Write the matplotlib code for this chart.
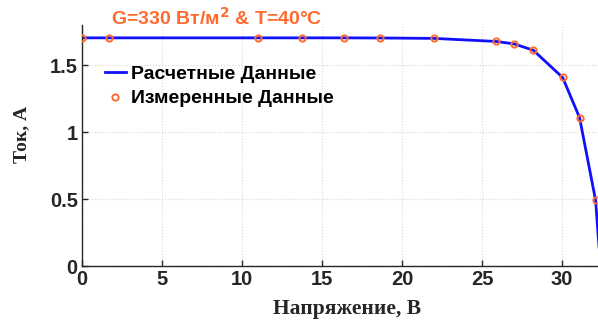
import matplotlib
matplotlib.use("Agg")
import matplotlib.pyplot as plt

# I-V characteristic of the PV module
voltage_calc = [0.0, 1.69, 11.0, 13.75, 16.35, 18.6, 22.0, 25.9, 27.0, 28.2, 30.04, 31.1, 32.1, 32.4]
current_calc = [1.704, 1.704, 1.704, 1.704, 1.704, 1.703, 1.700, 1.677, 1.659, 1.612, 1.408, 1.107, 0.49, 0.0]

voltage_meas = [0.0, 1.69, 11.0, 13.75, 16.35, 18.6, 22.0, 25.9, 27.0, 28.2, 30.04, 31.1, 32.1]
current_meas = [1.704, 1.704, 1.704, 1.704, 1.704, 1.703, 1.700, 1.677, 1.659, 1.612, 1.408, 1.107, 0.49]

x_ticks = [0, 5, 10, 15, 20, 25, 30]
y_ticks = [0, 0.5, 1, 1.5]
y_tick_labels = ["0", "0.5", "1", "1.5"]

orange = "#FF6A2E"
blue = "#1010FF"
dark = "#262626"

fig = plt.figure(figsize=(5.98, 3.2), dpi=100)
ax = fig.add_axes([82 / 598, 1 - 266 / 320, 1 - 82 / 598, (266 - 25) / 320])

ax.plot(voltage_meas, current_meas, linestyle="none", marker="o", markersize=4.5,
        markerfacecolor="none", markeredgecolor=orange, markeredgewidth=1.4,
        label="Измеренные Данные", zorder=3)
ax.plot(voltage_calc, current_calc, color=blue, linewidth=2.0,
        label="Расчетные Данные", zorder=2)

ax.set_xlim(0, (598 - 82) / 16)
ax.set_ylim(0, 1.8)
ax.set_xticks(x_ticks)
ax.set_yticks(y_ticks)
ax.set_yticklabels(y_tick_labels)

ax.grid(True, color="#d8d8d8", linestyle=":", linewidth=0.8)
ax.set_axisbelow(True)

for side in ("top", "right"):
    ax.spines[side].set_visible(False)
for side in ("left", "bottom"):
    ax.spines[side].set_color(dark)
    ax.spines[side].set_linewidth(1.0)

ax.tick_params(direction="in", length=4, width=1, colors=dark, labelsize=14.5, pad=3)
for lbl in ax.get_xticklabels() + ax.get_yticklabels():
    lbl.set_fontweight("bold")
    lbl.set_fontfamily("Liberation Sans")

handles, labels = ax.get_legend_handles_labels()
leg = ax.legend(handles[::-1], labels[::-1], loc="upper left", bbox_to_anchor=(0.01, 0.905),
                frameon=False, handlelength=1.1, handletextpad=0.25, labelspacing=0.35,
                prop={"family": "Liberation Sans", "weight": "bold", "size": 14})

fig.text(111 / 598, 1 - 18 / 320, "G=330 Вт/м$^{\\mathbf{2}}$ & T=40°C", color=orange,
         fontsize=14, fontweight="bold", family="Liberation Sans", va="center", ha="left")

fig.text(347 / 598, 1 - 309 / 320, "Напряжение, В", fontsize=15.5, fontweight="bold",
         family="Liberation Serif", color=dark, ha="center", va="center")
fig.text(22 / 598, 1 - 134 / 320, "Ток, А", fontsize=14, fontweight="bold",
         family="Liberation Serif", color=dark, ha="center", va="center", rotation=90)

fig.savefig("out.png", dpi=100)
